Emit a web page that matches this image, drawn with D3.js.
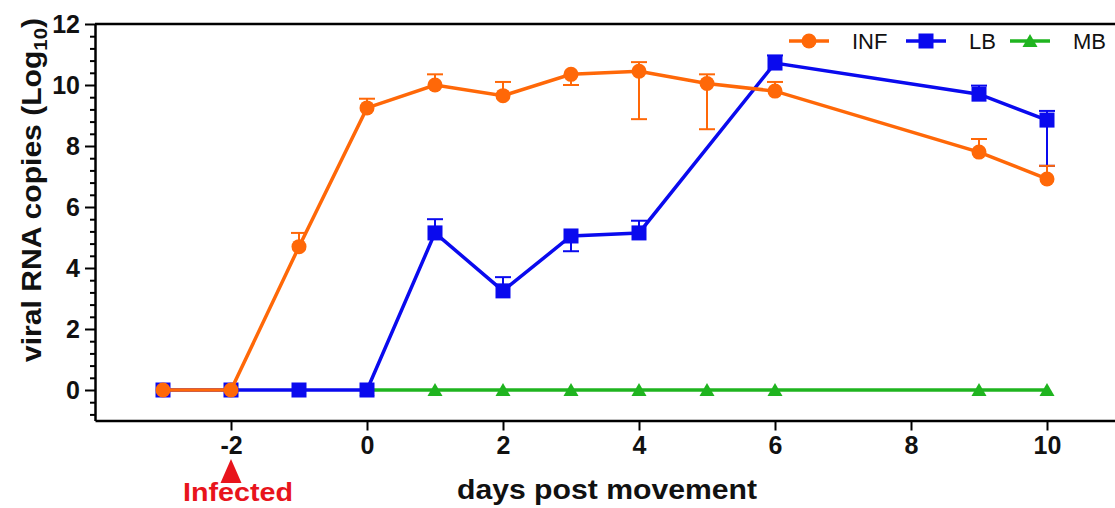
<!DOCTYPE html>
<html>
  <body style="margin:0;background:#fff">
    <style>
      text { font-family: "Liberation Sans", Arial, sans-serif; }
      .tick text { font-weight: bold; font-size: 25px; fill: #111; }
    </style>
    <script src="https://cdn.jsdelivr.net/npm/d3@7"></script>
    <script>
      // viral RNA copies per group, days relative to movement
      const infDays = [-3, -2, -1, 0, 1, 2, 3, 4, 5, 6, 9, 10];
      const infVals = [0, 0, 4.7, 9.25, 10.0, 9.65, 10.35, 10.45, 10.05, 9.8, 7.8, 6.92];
      const infUp   = [0, 0, 0.45, 0.3, 0.35, 0.45, 0, 0.3, 0.3, 0.3, 0.43, 0.43];
      const infDown = [0, 0, 0, 0, 0, 0, 0.35, 1.57, 1.5, 0, 0, 0];

      const lbDays = [-3, -2, -1, 0, 1, 2, 3, 4, 6, 9, 10];
      const lbVals = [0, 0, 0, 0, 5.15, 3.25, 5.05, 5.15, 10.72, 9.7, 8.85];
      const lbUp   = [0, 0, 0, 0, 0.45, 0.45, 0, 0.4, 0.25, 0.28, 0.3];
      const lbDown = [0, 0, 0, 0, 0, 0, 0.5, 0, 0, 0, 1.5];

      const mbDays = [0, 1, 2, 3, 4, 5, 6, 9, 10];
      const mbVals = [0, 0, 0, 0, 0, 0, 0, 0, 0];

      const xTicks = [-2, 0, 2, 4, 6, 8, 10];
      const yTicks = [0, 2, 4, 6, 8, 10, 12];

      const W = 1115, H = 508;
      const svg = d3.select('body').append('svg')
        .attr('width', W).attr('height', H);

      const x = d3.scaleLinear().domain([-4, 11]).range([95, 1115]);
      const y = d3.scaleLinear().domain([-1, 12]).range([420.5, 24]);

      const ORANGE = '#ff6808', BLUE = '#0a0aee', GREEN = '#1fb41f';

      // axes
      const minor = d3.range(-0.8, 12, 0.4).filter(v => Math.abs(v / 2 - Math.round(v / 2)) > 0.01);
      svg.append('g')
        .attr('transform', 'translate(95,0)')
        .call(d3.axisLeft(y).tickValues(minor).tickSize(5).tickFormat(''))
        .call(g => g.select('.domain').remove())
        .call(g => g.selectAll('line').attr('stroke-width', 2));

      svg.append('g')
        .attr('transform', 'translate(95,0)')
        .call(d3.axisLeft(y).tickValues(yTicks).tickSize(10).tickPadding(5).tickSizeOuter(0))
        .call(g => g.select('.domain').attr('stroke-width', 2.5))
        .call(g => g.selectAll('line').attr('stroke-width', 2));

      svg.append('g')
        .attr('transform', 'translate(0,420.5)')
        .call(d3.axisBottom(x).tickValues(xTicks).tickSize(10).tickPadding(6).tickSizeOuter(0)
          .tickFormat(d => d < 0 ? '-' + Math.abs(d) : d))
        .call(g => g.select('.domain').attr('stroke-width', 2.5))
        .call(g => g.selectAll('line').attr('stroke-width', 2));

      // top frame line
      svg.append('line')
        .attr('x1', x(-4)).attr('x2', x(11))
        .attr('y1', y(12)).attr('y2', y(12))
        .attr('stroke', '#000').attr('stroke-width', 2.5);

      const line = d3.line().x(d => x(d[0])).y(d => y(d[1]));

      function errorBars(days, vals, up, down, color) {
        const g = svg.append('g').attr('stroke', color).attr('stroke-width', 2);
        days.forEach((d, i) => {
          const cx = x(d);
          [[up[i], 1], [down[i], -1]].forEach(([e, s]) => {
            if (e <= 0) return;
            const yEnd = y(vals[i] + s * e);
            g.append('line').attr('x1', cx).attr('x2', cx)
              .attr('y1', y(vals[i])).attr('y2', yEnd);
            g.append('line').attr('x1', cx - 8).attr('x2', cx + 8)
              .attr('y1', yEnd).attr('y2', yEnd);
          });
        });
      }

      function drawMarker(g, shape, cx, cy, color) {
        if (shape === 'circle') {
          g.append('circle').attr('cx', cx).attr('cy', cy).attr('r', 7.5).attr('fill', color);
        } else if (shape === 'square') {
          g.append('rect').attr('x', cx - 7.5).attr('y', cy - 7.5)
            .attr('width', 15).attr('height', 15).attr('fill', color);
        } else {
          g.append('path')
            .attr('d', `M${cx},${cy - 7}L${cx + 7.5},${cy + 6}L${cx - 7.5},${cy + 6}Z`)
            .attr('fill', color);
        }
      }

      function series(days, vals, color, shape) {
        const pts = days.map((d, i) => [d, vals[i]]);
        svg.append('path').datum(pts)
          .attr('d', line).attr('fill', 'none')
          .attr('stroke', color).attr('stroke-width', 3.5);
        const g = svg.append('g');
        pts.forEach(p => drawMarker(g, shape, x(p[0]), y(p[1]), color));
      }

      // MB under LB under INF
      series(mbDays, mbVals, GREEN, 'triangle');
      errorBars(lbDays, lbVals, lbUp, lbDown, BLUE);
      series(lbDays, lbVals, BLUE, 'square');
      errorBars(infDays, infVals, infUp, infDown, ORANGE);
      series(infDays, infVals, ORANGE, 'circle');

      // legend
      const legend = [
        { name: 'INF', color: ORANGE, shape: 'circle', x0: 789 },
        { name: 'LB', color: BLUE, shape: 'square', x0: 906 },
        { name: 'MB', color: GREEN, shape: 'triangle', x0: 1010 }
      ];
      const lg = svg.append('g');
      legend.forEach(l => {
        lg.append('line').attr('x1', l.x0).attr('x2', l.x0 + 40)
          .attr('y1', 41).attr('y2', 41)
          .attr('stroke', l.color).attr('stroke-width', 3.5);
        drawMarker(lg, l.shape, l.x0 + 20, 41, l.color);
        lg.append('text').attr('x', l.x0 + 63).attr('y', 49)
          .attr('font-size', 22).attr('fill', '#111').text(l.name);
      });

      // axis titles
      const yTitle = svg.append('text')
        .attr('transform', 'translate(41,190) rotate(-90)')
        .attr('text-anchor', 'middle')
        .attr('font-size', 28).attr('font-weight', 'bold').attr('fill', '#111')
        .attr('textLength', 344).attr('lengthAdjust', 'spacingAndGlyphs');
      yTitle.append('tspan').text('viral RNA copies (Log');
      yTitle.append('tspan').attr('font-size', 19).attr('dy', 6).text('10');
      yTitle.append('tspan').attr('dy', -6).text(')');

      svg.append('text')
        .attr('x', 607).attr('y', 499)
        .attr('text-anchor', 'middle')
        .attr('font-size', 28).attr('font-weight', 'bold').attr('fill', '#111')
        .attr('textLength', 300).attr('lengthAdjust', 'spacingAndGlyphs')
        .text('days post movement');

      // infection marker
      const RED = '#e8141c';
      svg.append('path')
        .attr('d', `M${x(-2)},459L${x(-2) + 10.5},483L${x(-2) - 10.5},483Z`)
        .attr('fill', RED);
      svg.append('text')
        .attr('x', x(-2) + 7).attr('y', 501)
        .attr('text-anchor', 'middle')
        .attr('font-size', 26).attr('font-weight', 'bold').attr('fill', RED)
        .attr('textLength', 110).attr('lengthAdjust', 'spacingAndGlyphs')
        .text('Infected');
    </script>
  </body>
</html>
